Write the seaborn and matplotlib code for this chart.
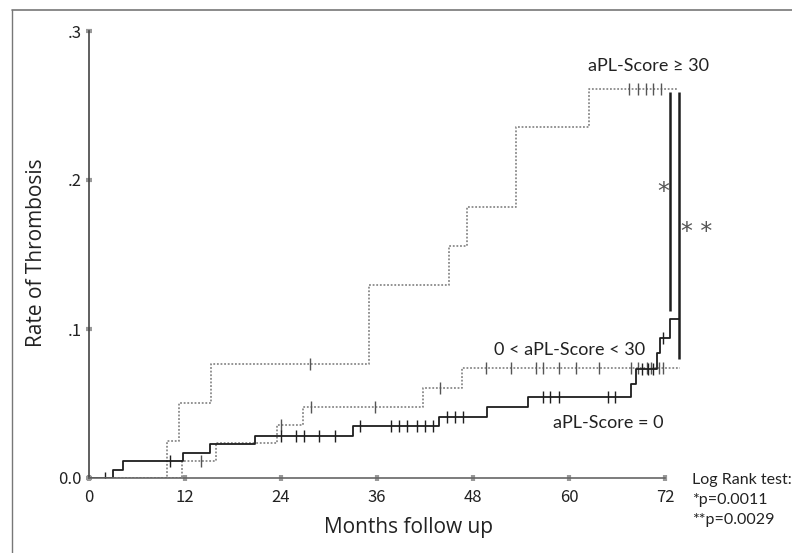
import matplotlib
matplotlib.use('Agg')
import matplotlib.pyplot as plt
import numpy as np
import pandas as pd
import seaborn as sns
from matplotlib.lines import Line2D

# Kaplan-Meier style step curves (event times in months, cumulative rate after each step)
HIGH_TIMES = [0, 9.75, 11.3, 15.3, 35, 45, 47.25, 53.4, 62.5]
HIGH_RATES = [0, 0.025, 0.0505, 0.0765, 0.1295, 0.156, 0.182, 0.2356, 0.261]
HIGH_END = 73.6
HIGH_CENSOR = [27.6, 67.5, 68.6, 69.6, 70.5, 71.5]

MID_TIMES = [0, 11.6, 15.9, 23.5, 26.8, 41.8, 46.6]
MID_RATES = [0, 0.0114, 0.0237, 0.0354, 0.0477, 0.0606, 0.0735]
MID_END = 73.9
MID_CENSOR = [14, 24, 27.8, 35.8, 43.9, 49.6, 52.8, 55.9, 56.7, 58.8, 60.9,
              63.8, 67.8, 68.6, 69.7, 70.3, 71.25, 71.75]

ZERO_TIMES = [0, 3, 4.25, 11.7, 15.1, 20.7, 33, 43.7, 49.7, 54.9, 67.8, 68.4,
              71, 71.4, 72.6]
ZERO_RATES = [0, 0.0054, 0.0114, 0.017, 0.023, 0.028, 0.035, 0.041, 0.0476,
              0.0544, 0.063, 0.073, 0.084, 0.094, 0.107]
ZERO_END = 73.8
ZERO_CENSOR = [2, 10.1, 24, 25.9, 26.9, 28.8, 30.75, 33.9, 37.8, 38.8, 39.8,
               41, 42, 43, 44.7, 45.75, 46.8, 56.8, 57.6, 58.7, 64.9, 65.75,
               69.1, 69.9, 70.5, 71.7]

# significance brackets
SIG_X = [72.6, 73.75]
SIG_LOW = [0.112, 0.08]
SIG_HIGH = [0.259, 0.259]

X_TICKS = [0, 12, 24, 36, 48, 60, 72]
Y_TICKS = [0.0, 0.1, 0.2, 0.3]
Y_TICK_LABELS = ['0.0', '.1', '.2', '.3']


def step_frame(times, rates, end):
    return pd.DataFrame({'Months': list(times) + [end],
                         'Rate': list(rates) + [rates[-1]]})


def censor_frame(times, rates, censor):
    idx = np.searchsorted(times, censor, side='right') - 1
    return pd.DataFrame({'Months': censor, 'Rate': np.array(rates)[idx]})


sns.set_style('ticks')
plt.rcParams['font.family'] = ['Noto Sans CJK JP', 'DejaVu Sans']

fig = plt.figure(figsize=(7.92, 5.53), dpi=100)
ax = fig.add_axes([89 / 792, 75 / 553, 640 / 792, 447 / 553])

curves = [
    (HIGH_TIMES, HIGH_RATES, HIGH_END, HIGH_CENSOR, '#8a8a8a', (0, (1, 1)), 1.3),
    (MID_TIMES, MID_RATES, MID_END, MID_CENSOR, '#8a8a8a', (0, (1, 1)), 1.3),
    (ZERO_TIMES, ZERO_RATES, ZERO_END, ZERO_CENSOR, '#1e1e1e', '-', 1.3),
]
for times, rates, end, censor, color, ls, lw in curves:
    sns.lineplot(data=step_frame(times, rates, end), x='Months', y='Rate',
                 drawstyle='steps-post', color=color, linestyle=ls,
                 linewidth=lw, estimator=None, sort=False, ax=ax)
    cf = censor_frame(times, rates, censor)
    ax.plot(cf['Months'], cf['Rate'], linestyle='none', marker='|',
            markersize=8, markeredgewidth=1.0,
            color=color if ls == '-' else '#555555')

ax.vlines(SIG_X, SIG_LOW, SIG_HIGH, colors='#1e1e1e', linewidth=1.8)

ax.set_xlim(0, 80)
ax.set_ylim(0, 0.3)
ax.set_xticks(X_TICKS)
ax.set_yticks(Y_TICKS)
ax.set_yticklabels(Y_TICK_LABELS)
ax.spines['right'].set_visible(False)
ax.spines['top'].set_visible(False)
ax.spines['bottom'].set_bounds(0, 72)
ax.spines['bottom'].set_color('#666666')
ax.spines['left'].set_color('#444444')
ax.spines['left'].set_linewidth(1.2)
ax.spines['bottom'].set_linewidth(1.2)
ax.tick_params(axis='both', direction='inout', length=4, width=3,
               color='#999999', labelsize=12, labelcolor='#222222')
ax.tick_params(axis='x', pad=6)
ax.tick_params(axis='y', pad=3)
ax.set_xlabel('')
ax.set_ylabel('')
ax.patch.set_alpha(0)

lab_font = ['Open Sans', 'DejaVu Sans']
ann_font = ['Lato', 'DejaVu Sans']
ax.text(69.9, 0.2765, 'aPL-Score \u2265 30', ha='center', va='center',
        fontsize=13, family=ann_font, color='#222222')
ax.text(60.1, 0.0859, '0 < aPL-Score < 30', ha='center', va='center',
        fontsize=13, family=ann_font, color='#222222')
ax.text(64.9, 0.0369, 'aPL-Score = 0', ha='center', va='center',
        fontsize=13, family=ann_font, color='#222222')
ax.text(71.8, 0.192, '*', ha='center', va='center', fontsize=17,
        family='DejaVu Sans', color='#555555')
ax.text(76.0, 0.165, '* *', ha='center', va='center', fontsize=17,
        family='DejaVu Sans', color='#555555')

fig.text(692 / 792, 1 - 480 / 553, 'Log Rank test:', ha='left', va='center',
         fontsize=11.5, family=ann_font, color='#222222')
fig.text(692 / 792, 1 - 500 / 553, '*p=0.0011', ha='left', va='center',
         fontsize=11.5, family=ann_font, color='#222222')
fig.text(692 / 792, 1 - 520 / 553, '**p=0.0029', ha='left', va='center',
         fontsize=11.5, family=ann_font, color='#222222')

fig.text(409 / 792, 1 - 528 / 553, 'Months follow up', ha='center',
         va='center', fontsize=15, family=lab_font, color='#222222')
fig.text(37 / 792, 1 - 253 / 553, 'Rate of Thrombosis', ha='center',
         va='center', rotation=90, fontsize=15, family=lab_font,
         color='#222222')

# frame border (top and left visible in the scan)
fig.add_artist(Line2D([12 / 792, 12 / 792], [0, 1 - 10 / 553],
                      transform=fig.transFigure, color='#777777', linewidth=1))
fig.add_artist(Line2D([12 / 792, 1], [1 - 10 / 553, 1 - 10 / 553],
                      transform=fig.transFigure, color='#777777', linewidth=1.2))

fig.savefig('out.png', dpi=100)
